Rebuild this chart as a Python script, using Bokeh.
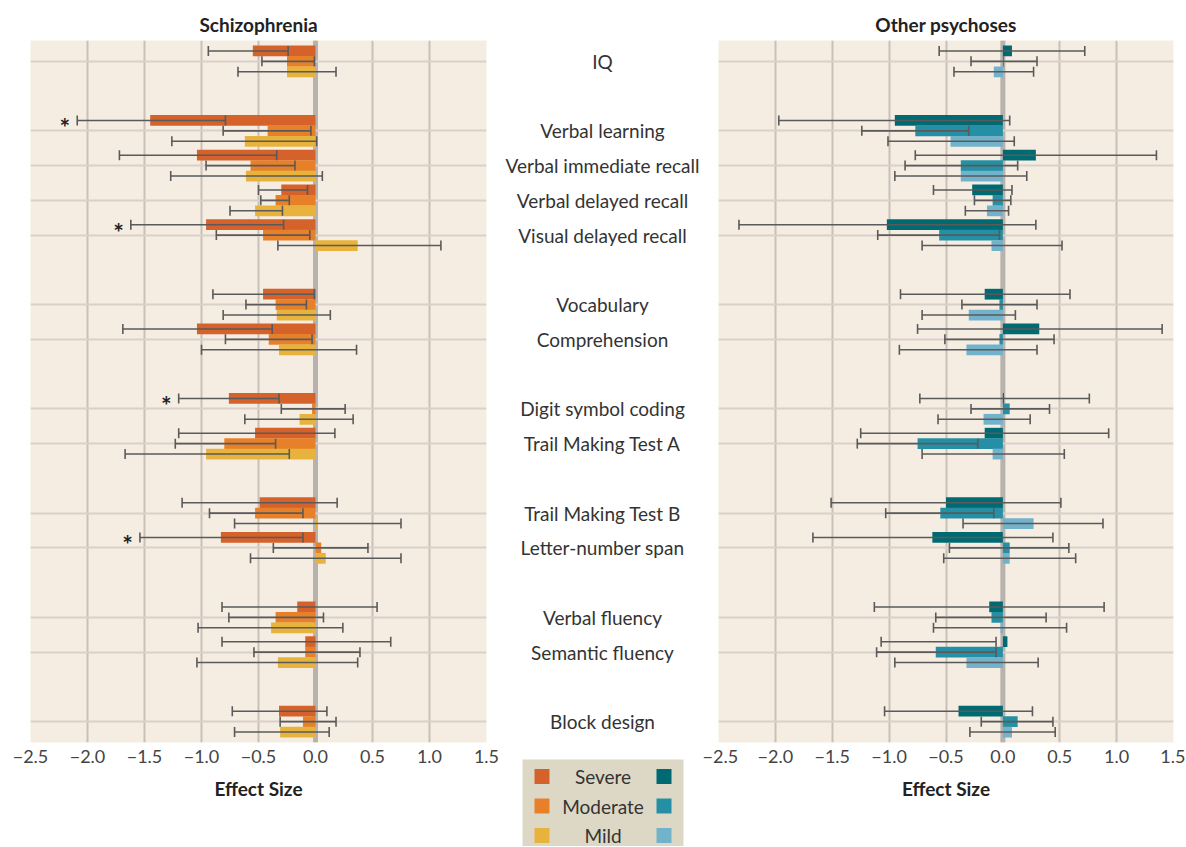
from bokeh.plotting import figure
from bokeh.layouts import row, column
from bokeh.models import ColumnDataSource, Range1d, FixedTicker, Whisker, TeeHead, Span
from bokeh.core.properties import value
from bokeh.embed import file_html
from bokeh.resources import INLINE

FONT = "Lato"

# ---------------- data ----------------
groups = [
    ["IQ"],
    ["Verbal learning", "Verbal immediate recall", "Verbal delayed recall", "Visual delayed recall"],
    ["Vocabulary", "Comprehension"],
    ["Digit symbol coding", "Trail Making Test A"],
    ["Trail Making Test B", "Letter-number span"],
    ["Verbal fluency", "Semantic fluency"],
    ["Block design"],
]
severity = ["Severe", "Moderate", "Mild"]
x_ticks = [-2.5, -2.0, -1.5, -1.0, -0.5, 0.0, 0.5, 1.0, 1.5]

# Schizophrenia (order: IQ ... Block design)
scz_severe    = [-0.55, -1.45, -1.04, -0.30, -0.96, -0.46, -1.04, -0.76, -0.53, -0.49, -0.83, -0.16, -0.09, -0.32]
scz_severe_lo = [-0.94, -2.09, -1.72, -0.50, -1.62, -0.90, -1.69, -1.20, -1.20, -1.17, -1.54, -0.82, -0.82, -0.73]
scz_severe_hi = [-0.24, -0.79, -0.34, -0.07, -0.28, -0.01, -0.38, -0.32, 0.17, 0.19, -0.11, 0.54, 0.66, 0.10]
scz_moderate    = [-0.25, -0.42, -0.57, -0.35, -0.46, -0.35, -0.41, -0.03, -0.80, -0.53, 0.05, -0.35, -0.09, -0.11]
scz_moderate_lo = [-0.47, -0.81, -0.96, -0.48, -0.87, -0.61, -0.79, -0.30, -1.23, -0.93, -0.37, -0.76, -0.54, -0.31]
scz_moderate_hi = [-0.01, -0.04, -0.18, -0.23, -0.05, -0.08, -0.03, 0.26, -0.35, -0.11, 0.46, 0.07, 0.39, 0.18]
scz_mild    = [-0.25, -0.62, -0.61, -0.53, 0.37, -0.34, -0.32, -0.14, -0.96, 0.02, 0.09, -0.39, -0.33, -0.31]
scz_mild_lo = [-0.68, -1.26, -1.27, -0.75, -0.33, -0.81, -1.00, -0.62, -1.67, -0.71, -0.57, -1.03, -1.04, -0.71]
scz_mild_hi = [0.18, 0.01, 0.06, -0.29, 1.10, 0.13, 0.36, 0.33, -0.23, 0.75, 0.75, 0.24, 0.37, 0.12]
scz_severe_sig = [False, True, False, False, True, False, False, True, False, False, True, False, False, False]

# Other psychoses
oth_severe    = [0.08, -0.95, 0.29, -0.27, -1.02, -0.16, 0.32, 0.01, -0.16, -0.50, -0.62, -0.12, 0.04, -0.39]
oth_severe_lo = [-0.56, -1.97, -0.77, -0.61, -2.32, -0.90, -0.75, -0.73, -1.25, -1.51, -1.67, -1.13, -1.07, -1.04]
oth_severe_hi = [0.72, 0.06, 1.35, 0.08, 0.29, 0.59, 1.40, 0.76, 0.93, 0.51, 0.44, 0.89, -0.06, 0.26]
oth_moderate    = [0.01, -0.77, -0.37, -0.09, -0.56, -0.03, -0.03, 0.06, -0.75, -0.55, 0.06, -0.10, -0.59, 0.13]
oth_moderate_lo = [-0.28, -1.24, -0.86, -0.25, -1.10, -0.36, -0.51, -0.28, -1.28, -1.03, -0.47, -0.59, -1.11, -0.19]
oth_moderate_hi = [0.30, -0.30, 0.13, 0.07, -0.03, 0.30, 0.45, 0.41, -0.22, -0.08, 0.58, 0.38, -0.06, 0.44]
oth_mild    = [-0.08, -0.46, -0.37, -0.14, -0.10, -0.30, -0.32, -0.17, -0.09, 0.27, 0.06, -0.02, -0.32, 0.08]
oth_mild_lo = [-0.43, -1.01, -0.95, -0.33, -0.71, -0.71, -0.91, -0.57, -0.71, -0.35, -0.52, -0.61, -0.95, -0.29]
oth_mild_hi = [0.27, 0.10, 0.21, 0.05, 0.52, 0.11, 0.30, 0.24, 0.54, 0.88, 0.64, 0.56, 0.31, 0.46]
oth_severe_sig = [False] * 14

scz_colors = ["#d5622b", "#e8802a", "#e8b33d"]
oth_colors = ["#006a72", "#2590a5", "#72b2cb"]

# ---------------- layout helpers ----------------
categories, positions = [], []
pos = 0
for g in groups:
    for c in g:
        categories.append(c)
        positions.append(pos)
        pos += 1
    pos += 1
pos -= 1

yr = Range1d(pos - 1 + 0.6, -0.6)
offsets = [-0.3, 0.0, 0.3]
BAR_H = 0.31
TOP = 40
FRAME_H = 702
BOTTOM = 104
FIG_H = TOP + FRAME_H + BOTTOM

BG = "#f5ede2"
ERR = "#5a5a5a"


def panel(title, series, colors, sig, width, bl, br):
    p = figure(width=width, height=FIG_H, x_range=Range1d(-2.5, 1.5), y_range=yr,
               output_backend="svg", toolbar_location=None, y_axis_location=None,
               min_border_left=bl, min_border_right=br, min_border_top=TOP,
               min_border_bottom=BOTTOM, title=title)
    p.background_fill_color = BG
    p.border_fill_color = "white"
    p.outline_line_color = None
    p.title.align = "center"
    p.title.text_font = FONT
    p.title.text_font_size = "19px"
    p.title.text_font_style = "bold"
    p.title.text_color = "#222222"

    p.xaxis.ticker = FixedTicker(ticks=x_ticks)
    p.xaxis.major_label_overrides = {t: f"{t:.1f}".replace("-", "\u2212") for t in x_ticks}
    p.xaxis.major_label_text_font = FONT
    p.xaxis.major_label_text_font_size = "18px"
    p.xaxis.major_label_text_color = "#444444"
    p.xaxis.major_label_standoff = 1
    p.xaxis.axis_line_color = None
    p.xaxis.major_tick_line_color = None
    p.xaxis.minor_tick_line_color = None
    p.xaxis.axis_label = "Effect Size"
    p.xaxis.axis_label_text_font = FONT
    p.xaxis.axis_label_text_font_size = "19px"
    p.xaxis.axis_label_text_font_style = "bold"
    p.xaxis.axis_label_text_color = "#222222"
    p.xaxis.axis_label_standoff = 11
    p.xgrid.grid_line_color = "#c9c0b8"
    p.xgrid.grid_line_width = 2
    p.ygrid.visible = False

    p.add_layout(Span(location=0, dimension="height", line_color="#b7b2ad",
                      line_width=5, level="underlay"))
    p.hspan(y=positions, line_color="#d9d1c8", line_width=2)

    sources = []
    for (vals, lo, hi), col, off in zip(series, colors, offsets):
        src = ColumnDataSource(dict(y=[q + off for q in positions], right=vals, lo=lo, hi=hi))
        p.hbar(y="y", left=0, right="right", height=BAR_H, fill_color=col,
               line_color=None, source=src)
        sources.append(src)
    for src in sources:
        p.add_layout(Whisker(source=src, base="y", lower="lo", upper="hi", dimension="width",
                             line_color=ERR, line_width=1.6, level="annotation",
                             upper_head=TeeHead(size=10, line_color=ERR, line_width=1.6),
                             lower_head=TeeHead(size=10, line_color=ERR, line_width=1.6)))
    s0 = sources[0].data
    star_src = ColumnDataSource(dict(
        x=[l for l, s in zip(s0["lo"], sig) if s],
        y=[y for y, s in zip(s0["y"], sig) if s]))
    p.text(x="x", y="y", text=value("*"), source=star_src, text_align="right",
           text_baseline="middle", x_offset=-7, y_offset=7, text_font=value(FONT),
           text_font_style="bold", text_font_size="25px", text_color="#222222")
    return p


left = panel("Schizophrenia",
             [(scz_severe, scz_severe_lo, scz_severe_hi),
              (scz_moderate, scz_moderate_lo, scz_moderate_hi),
              (scz_mild, scz_mild_lo, scz_mild_hi)],
             scz_colors, scz_severe_sig, width=502, bl=30, br=16)

right = panel("Other psychoses",
              [(oth_severe, oth_severe_lo, oth_severe_hi),
               (oth_moderate, oth_moderate_lo, oth_moderate_hi),
               (oth_mild, oth_mild_lo, oth_mild_hi)],
              oth_colors, oth_severe_sig, width=483, bl=16, br=12)

# middle labels
MID_W = 200
mid = figure(width=MID_W, height=TOP + FRAME_H, x_range=Range1d(0, 1), y_range=yr,
             output_backend="svg", toolbar_location=None, x_axis_location=None,
             y_axis_location=None, min_border_left=0, min_border_right=0,
             min_border_top=TOP, min_border_bottom=0)
mid.outline_line_color = None
mid.grid.visible = False
mid.background_fill_color = "white"
mid.border_fill_color = "white"
mid.text(x=0.5, y=positions, text=categories, text_align="center", text_baseline="middle",
         text_font=value(FONT), text_font_size="19px", text_color="#333333")

# legend panel
leg = figure(width=MID_W, height=BOTTOM, x_range=Range1d(0, MID_W), y_range=Range1d(BOTTOM, 0),
             output_backend="svg", toolbar_location=None, x_axis_location=None,
             y_axis_location=None, min_border_left=0, min_border_right=0,
             min_border_top=0, min_border_bottom=0)
leg.outline_line_color = None
leg.grid.visible = False
leg.background_fill_color = "white"
leg.border_fill_color = "white"
leg.quad(left=20, right=181, top=17, bottom=BOTTOM + 10, fill_color="#ddd8c5", line_color=None)
row_y = [34 + 29.5 * i for i in range(len(severity))]
leg.scatter(x=[39.5] * 3, y=row_y, marker="square", size=15, fill_color=scz_colors, line_color=None)
leg.scatter(x=[161.5] * 3, y=row_y, marker="square", size=15, fill_color=oth_colors, line_color=None)
leg.text(x=[100.5] * 3, y=row_y, text=severity, text_align="center", text_baseline="middle",
         text_font=value(FONT), text_font_size="19px", text_color="#333333")

layout = row(left, column(mid, leg), right)

open("out.html", "w").write(file_html(layout, INLINE))
